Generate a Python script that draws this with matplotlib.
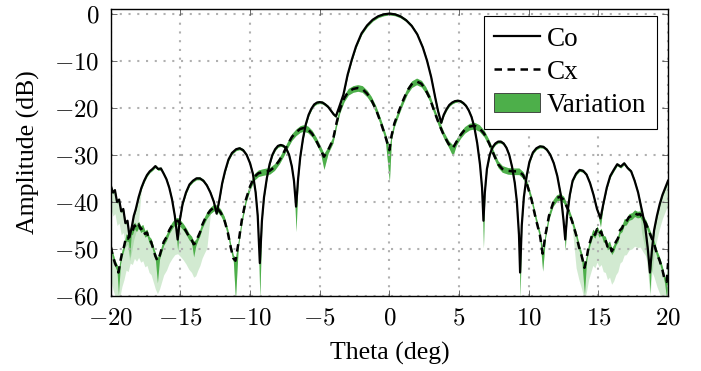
import numpy as np
from matplotlib import pyplot as plt
from matplotlib.lines import Line2D
from matplotlib.patches import Patch
from matplotlib.ticker import FuncFormatter

plt.rcParams['font.family'] = ['Liberation Serif', 'DejaVu Serif']
plt.rcParams['mathtext.fontset'] = 'cm'

# Co-polar cut (deg, dB)
co_theta = [-20.0, -19.85, -19.7, -19.55, -19.4, -19.25, -19.1, -18.95, -18.8, -18.65,
            -18.5, -18.35, -18.2, -18.0, -17.8, -17.6, -17.4, -17.2, -17.0, -16.8,
            -16.6, -16.4, -16.2, -16.0, -15.8, -15.6, -15.4, -15.2, -15.05, -14.85,
            -14.6, -14.35, -14.1, -13.85, -13.6, -13.35, -13.1, -12.85, -12.6, -12.4,
            -12.2, -12.0, -11.8, -11.55, -11.3, -11.0, -10.75, -10.5, -10.25, -10.0,
            -9.8, -9.6, -9.45, -9.3, -9.15, -9.0, -8.8, -8.6, -8.4, -8.2,
            -8.0, -7.8, -7.6, -7.4, -7.2, -7.0, -6.85, -6.7, -6.55, -6.4,
            -6.2, -6.0, -5.8, -5.6, -5.4, -5.2, -5.0, -4.8, -4.6, -4.4,
            -4.2, -4.0, -3.84, -3.6, -3.3, -3.0, -2.7, -2.4, -2.0, -1.6,
            -1.2, -0.8, -0.4, 0, 0.4, 0.8, 1.2, 1.6, 2.0, 2.4,
            2.7, 3.0, 3.3, 3.5, 3.72, 3.9, 4.1, 4.3, 4.5, 4.7,
            4.9, 5.1, 5.3, 5.5, 5.7, 5.9, 6.1, 6.3, 6.5, 6.65,
            6.75, 6.85, 7.0, 7.2, 7.4, 7.6, 7.8, 8.0, 8.2, 8.4,
            8.6, 8.8, 9.0, 9.15, 9.3, 9.38, 9.5, 9.65, 9.85, 10.05,
            10.3, 10.55, 10.8, 11.05, 11.3, 11.55, 11.8, 12.05, 12.3, 12.5,
            12.62, 12.75, 12.95, 13.15, 13.4, 13.65, 13.9, 14.15, 14.4, 14.65,
            14.9, 15.15, 15.35, 15.6, 15.85, 16.1, 16.35, 16.6, 16.85, 17.1,
            17.35, 17.6, 17.85, 18.1, 18.35, 18.55, 18.7, 18.85, 19.0, 19.2,
            19.4, 19.6, 19.8, 20.0]
co_db = [-36.5, -38, -37.5, -40, -39.5, -42, -41.5, -44.5, -44, -47.5,
         -45.5, -43, -41.5, -39, -37, -35.5, -34.3, -33.5, -33, -32.4,
         -33, -32.9, -34, -35.2, -37, -39.5, -43, -48, -44, -40.5,
         -38, -36.3, -35.5, -35, -35, -35.5, -36.5, -38, -40, -42.5,
         -39.5, -36, -33.5, -31, -29.6, -28.8, -28.6, -29, -30, -31.8,
         -34, -38, -43, -53, -44, -39, -35, -32, -30, -28.8,
         -28.1, -27.9, -28.1, -28.7, -30, -32.5, -35.5, -41, -35, -30.5,
         -26.5, -23.5, -21.5, -20.2, -19.3, -18.9, -18.8, -18.9, -19.3, -19.8,
         -20.6, -21.4, -21.8, -19.8, -17.2, -13, -9.8, -7, -4.2, -2.5,
         -1.3, -0.55, -0.15, 0, -0.15, -0.6, -1.4, -2.6, -4.4, -7.2,
         -10, -13.5, -18, -20.8, -23.2, -21.5, -20.3, -19.4, -18.9, -18.6,
         -18.5, -18.6, -19, -19.6, -20.6, -22, -24.2, -27.5, -32, -37,
         -44, -38, -33, -30, -28.4, -27.6, -27.2, -27.2, -27.6, -28.5,
         -30, -32.5, -36, -40, -47, -55, -45, -39, -34.5, -31.5,
         -29.5, -28.6, -28.2, -28.3, -28.9, -30, -31.8, -34.5, -38.5, -44,
         -48, -43, -38.5, -35.5, -34, -33.2, -33.4, -34.2, -36, -38.5,
         -41.5, -43.5, -40.5, -37, -34.5, -33.2, -32, -32.5, -31.8, -32.8,
         -33.5, -35.5, -38, -41.5, -45, -50, -55, -50, -46, -43,
         -40.5, -38.5, -37, -35.5]
# extra depth of the variation band below the Co nulls (deg: dB)
co_null_depth = {-18.65: 4, -15.2: 2, -9.3: 7, -6.7: 5, 6.75: 5.5,
                 9.38: 5, 12.62: 2, 15.15: 1.5, 18.7: 4}

# Cross-polar cut (deg, dB)
cx_theta = [-20.0, -19.85, -19.7, -19.55, -19.45, -19.3, -19.2, -19.05, -18.9, -18.75,
            -18.6, -18.45, -18.3, -18.15, -18.0, -17.85, -17.7, -17.55, -17.4, -17.25,
            -17.1, -16.95, -16.8, -16.65, -16.5, -16.35, -16.2, -16.0, -15.8, -15.6,
            -15.4, -15.2, -15.0, -14.8, -14.6, -14.4, -14.2, -14.05, -13.9, -13.75,
            -13.6, -13.45, -13.3, -13.1, -12.85, -12.6, -12.35, -12.1, -11.85, -11.6,
            -11.4, -11.2, -11.05, -10.85, -10.6, -10.3, -10.0, -9.7, -9.4, -9.0,
            -8.6, -8.25, -7.9, -7.6, -7.3, -7.0, -6.7, -6.4, -6.15, -5.85,
            -5.55, -5.25, -4.95, -4.7, -4.4, -4.05, -3.8, -3.56, -3.25, -2.95,
            -2.6, -2.27, -1.95, -1.6, -1.3, -0.96, -0.6, -0.3, 0, 0.15,
            0.36, 0.72, 1.0, 1.3, 1.6, 1.95, 2.3, 2.6, 2.9, 3.18,
            3.54, 3.9, 4.25, 4.55, 4.8, 5.1, 5.4, 5.75, 6.1, 6.45,
            6.8, 7.15, 7.5, 7.8, 8.1, 8.5, 8.9, 9.3, 9.6, 9.9,
            10.2, 10.5, 10.8, 11.0, 11.2, 11.45, 11.75, 12.0, 12.25, 12.5,
            12.8, 13.1, 13.4, 13.6, 13.8, 14.0, 14.15, 14.3, 14.45, 14.6,
            14.75, 14.9, 15.05, 15.2, 15.35, 15.5, 15.65, 15.8, 15.95, 16.1,
            16.25, 16.4, 16.55, 16.7, 16.85, 17.0, 17.2, 17.4, 17.6, 17.8,
            18.0, 18.2, 18.4, 18.6, 18.8, 19.0, 19.2, 19.4, 19.6, 19.75,
            19.9, 20.0]
cx_db = [-49.5, -51.5, -53, -54, -55, -52.5, -51, -49.5, -47.5, -47.8,
         -46, -46.3, -45, -45.6, -44.8, -45.8, -45.5, -46.8, -46.5, -48,
         -48.5, -50, -51.5, -52.5, -51.5, -50, -48.5, -47.5, -46, -45,
         -44.2, -44, -44.6, -45.3, -46.2, -47.3, -48, -49, -48.7, -47.5,
         -46.5, -45, -44, -42.8, -41.8, -41.2, -41.4, -42.3, -43.8, -46.5,
         -49.5, -52, -52.5, -49, -44, -39.5, -36.7, -34.7, -33.9, -33.6,
         -33.4, -32.6, -31.2, -29.6, -27.8, -26.2, -25.2, -24.5, -24.3, -24.6,
         -25.5, -27, -28.8, -30.4, -29, -26.8, -23.3, -20.4, -18, -16.6,
         -16, -15.8, -16, -17, -18.3, -20.4, -23.3, -26, -29, -26,
         -23.3, -20.4, -18.3, -16.3, -15, -14.4, -14.9, -16.2, -18, -20.4,
         -23.3, -25.8, -27.7, -28.6, -27.3, -25.8, -24.7, -24, -23.8, -24.3,
         -25.5, -27.5, -30, -32, -33, -33.4, -33.5, -33.5, -34.3, -36.5,
         -39.5, -43.5, -47, -51, -47, -43, -40.2, -39.2, -38.9, -39.5,
         -41.5, -44, -47, -49.5, -51.5, -54, -52, -49.5, -48, -46.5,
         -47, -45.8, -46.8, -46.3, -47.8, -48, -49.5, -49, -50.5, -49.8,
         -48.5, -47.8, -46, -45.6, -44.3, -44.2, -43.2, -43, -42.4, -42.7,
         -42.6, -43.6, -44.5, -46, -47.5, -49, -51, -52.5, -54.5, -56.5,
         -57, -53]
# extra depth of the variation band below the Cx nulls (deg: dB)
cx_null_depth = {-19.45: 4, -16.65: 4, -14.05: 2, -11.05: 7.5, -4.7: 2,
                 0: 6, 4.55: 1, 11.0: 3, 14.0: 5, 19.9: 3}

# noisy outer regions where the variation spreads out faintly (deg from, deg to, dB)
co_faint = [(-20, -17.9, 5), (17.9, 20, 5)]
cx_faint = [(-20, -12.9, 7), (13.2, 20, 7)]
co_base = 0.3
cx_base = 0.7

green = '#4daf4a'


def band(theta, db, base, null_depth, faint):
    t = np.array(theta)
    y = np.array(db)
    lo = np.full(len(t), base)
    for k, d in null_depth.items():
        lo[np.argmin(np.abs(t - k))] += d
    far = lo.copy()
    for a, b, d in faint:
        m = (t >= a) & (t <= b)
        far[m] = np.maximum(far[m], d)
    return t, y - lo, y - far, y + base


fig = plt.figure(figsize=(7.01, 3.71), dpi=100)
ax = fig.add_axes([0.158, 0.202, 0.795, 0.774])

for th, db, base, nd, fa in [(co_theta, co_db, co_base, co_null_depth, co_faint),
                             (cx_theta, cx_db, cx_base, cx_null_depth, cx_faint)]:
    t, lo, far, hi = band(th, db, base, nd, fa)
    ax.fill_between(t, far, hi, color=green, alpha=0.25, lw=0, zorder=1)
    ax.fill_between(t, lo, hi, color=green, lw=0, zorder=1)

ax.plot(cx_theta, cx_db, color='black', lw=1.8, linestyle=(0, (3, 2.2)), zorder=2)
ax.plot(co_theta, co_db, color='black', lw=1.6, zorder=3)

ax.set_xlim(-20, 20)
ax.set_ylim(-60, 1)
ax.set_xticks(np.arange(-20, 21, 5))
ax.set_yticks(np.arange(-60, 1, 10))
fmt = FuncFormatter(lambda v, p: '$%d$' % v)
ax.xaxis.set_major_formatter(fmt)
ax.yaxis.set_major_formatter(fmt)
ax.grid(True, color='#b0b0b0', linestyle=(0, (1, 3.2)), lw=1.5)
ax.tick_params(direction='in', top=True, right=True, length=4, width=0.6,
               colors='#555555', labelcolor='black', labelsize=18, pad=8)
for s in ax.spines.values():
    s.set_linewidth(1.0)
ax.set_xlabel('Theta (deg)', fontsize=18.5, labelpad=9)
ax.set_ylabel('Amplitude (dB)', fontsize=18.5, labelpad=10)

handles = [Line2D([], [], color='black', lw=1.6),
           Line2D([], [], color='black', lw=1.8, linestyle=(0, (3, 2.2))),
           Patch(facecolor=green, edgecolor='#333333', lw=0.6)]
leg = ax.legend(handles, ['Co', 'Cx', 'Variation'], loc='upper right',
                bbox_to_anchor=(0.98, 0.976), fontsize=19.5,
                fancybox=False, edgecolor='black', framealpha=1,
                handlelength=1.67, handletextpad=0.26, labelspacing=0.3,
                borderaxespad=0, borderpad=0.4)
leg.get_frame().set_linewidth(0.8)

plt.savefig('out.png')
